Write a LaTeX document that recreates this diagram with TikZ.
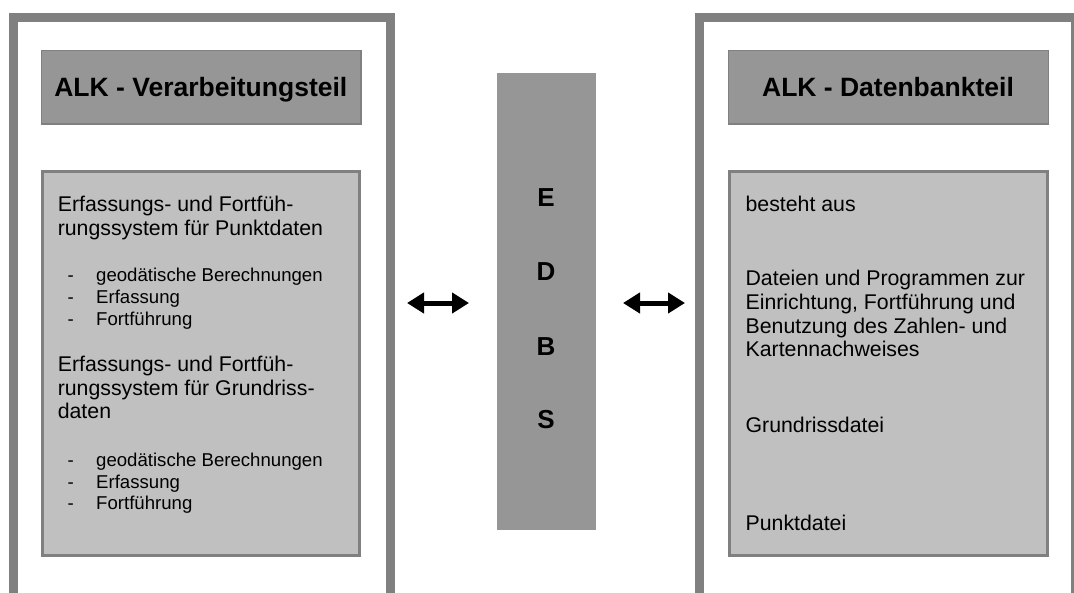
\documentclass[tikz,border=0pt]{standalone}
\usepackage{fontspec}
\setmainfont{Liberation Sans}
\usetikzlibrary{arrows.meta}
\definecolor{framegray}{HTML}{808080}
\definecolor{headgray}{HTML}{969696}
\definecolor{panelgray}{HTML}{C0C0C0}
\tikzset{
  outerframe/.style={draw=framegray, line width=9pt},
  headbox/.style={draw=framegray, line width=1.5pt, fill=headgray},
  panelbox/.style={draw=framegray, line width=3pt, fill=panelgray},
  edbsbox/.style={fill=headgray},
  headtext/.style={inner sep=0pt, anchor=base, font=\bfseries\fontsize{26.5}{30}\selectfont},
  edbstext/.style={inner sep=0pt, anchor=base, font=\bfseries\fontsize{26}{30}\selectfont},
  bodytext/.style={inner sep=0pt, anchor=base west, font=\fontsize{21.3}{24}\selectfont},
  itemtext/.style={inner sep=0pt, anchor=base west, font=\fontsize{18.6}{21}\selectfont},
  linkarrow/.style={line width=5pt, {Triangle[length=17pt,width=20pt]}-{Triangle[length=17pt,width=20pt]}}
}
\begin{document}
\begin{tikzpicture}[x=1pt,y=-1pt]
  \clip (0,0) rectangle (1074,592);
  \fill[white] (0,0) rectangle (1074,592);

  % outer frames, open at the bottom edge
  \draw[outerframe] (13.5,620) -- (13.5,17.5) -- (390.5,17.5) -- (390.5,620);
  \draw[outerframe] (699.5,620) -- (699.5,17.5) -- (1075.5,17.5) -- (1075.5,620);

  % title boxes
  \draw[headbox] (41.5,50.5) rectangle (361,124);
  \draw[headbox] (728.5,50.5) rectangle (1048.5,124);
  \node[headtext] (hl) at (200.8,96.6) {ALK - Verarbeitungsteil};
  \node[headtext] (hr) at (888,96.6) {ALK - Datenbankteil};

  % content panels
  \draw[panelbox] (42.5,171.5) rectangle (359.5,555.5);
  \draw[panelbox] (729.5,171.5) rectangle (1047.5,555.5);

  % EDBS column
  \fill[edbsbox] (497,73) rectangle (596,530);
  \node[edbstext] (e) at (546,206.7) {E};
  \node[edbstext] (d) at (546,280.7) {D};
  \node[edbstext] (b) at (546,355) {B};
  \node[edbstext] (s) at (546,428) {S};

  % left panel text
  \node[bodytext] (p1a) at (57.6,211.7) {Erfassungs- und Fortfüh-};
  \node[bodytext] (p1b) at (57.6,235) {rungssystem für Punktdaten};
  \node[itemtext] (d1a) at (67.5,281.7) {-};
  \node[itemtext] (i1a) at (96,281.7) {geodätische Berechnungen};
  \node[itemtext] (d1b) at (67.5,303.5) {-};
  \node[itemtext] (i1b) at (96,303.5) {Erfassung};
  \node[itemtext] (d1c) at (67.5,325.3) {-};
  \node[itemtext] (i1c) at (96,325.3) {Fortführung};

  \node[bodytext] (p2a) at (57.6,371.7) {Erfassungs- und Fortfüh-};
  \node[bodytext] (p2b) at (57.6,395.2) {rungssystem für Grundriss-};
  \node[bodytext] (p2c) at (57.6,418.8) {daten};
  \node[itemtext] (d2a) at (67.5,466.7) {-};
  \node[itemtext] (i2a) at (96,466.7) {geodätische Berechnungen};
  \node[itemtext] (d2b) at (67.5,488.2) {-};
  \node[itemtext] (i2b) at (96,488.2) {Erfassung};
  \node[itemtext] (d2c) at (67.5,509.5) {-};
  \node[itemtext] (i2c) at (96,509.5) {Fortführung};

  % right panel text
  \node[bodytext] (r1) at (745.4,211) {besteht aus};
  \node[bodytext] (r2a) at (745.4,285) {Dateien und Programmen zur};
  \node[bodytext] (r2b) at (745.4,309) {Einrichtung, Fortführung und};
  \node[bodytext] (r2c) at (745.4,333.2) {Benutzung des Zahlen- und};
  \node[bodytext] (r2d) at (745.4,356.8) {Kartennachweises};
  \node[bodytext] (r3) at (745.4,432) {Grundrissdatei};
  \node[bodytext] (r4) at (745.4,530) {Punktdatei};

  % double arrows between the parts
  \coordinate (la) at (407,303);
  \coordinate (lb) at (469,303);
  \coordinate (ra) at (623,303);
  \coordinate (rb) at (685,303);
  \draw[linkarrow] (la) -- (lb);
  \draw[linkarrow] (ra) -- (rb);
\end{tikzpicture}
\end{document}
